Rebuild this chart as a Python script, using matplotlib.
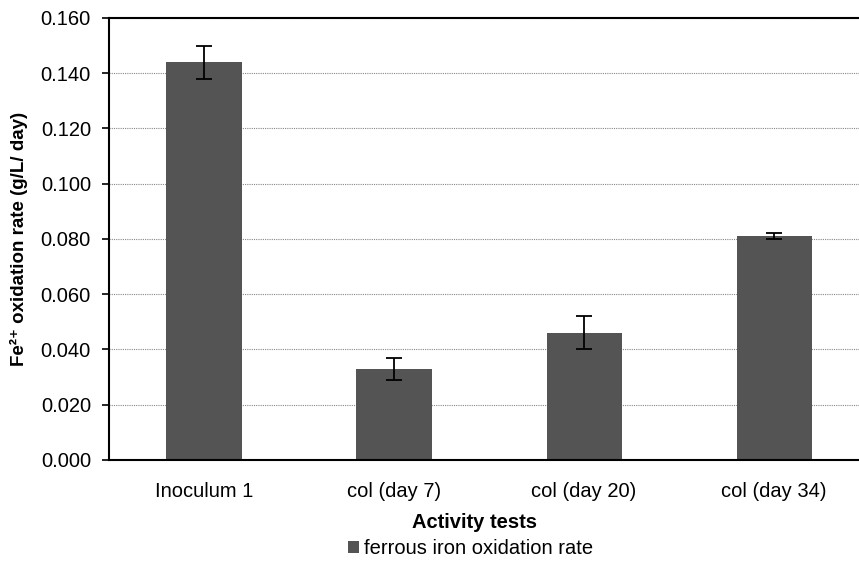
import numpy as np
import matplotlib.pyplot as plt

# скорость окисления Fe2+ по тестам активности
categories = ["Inoculum 1", "col (day 7)", "col (day 20)", "col (day 34)"]
rates = [0.144, 0.033, 0.046, 0.081]
errors = [0.006, 0.004, 0.006, 0.001]
y_ticks = [0.000, 0.020, 0.040, 0.060, 0.080, 0.100, 0.120, 0.140, 0.160]

plt.rcParams['font.family'] = ['Liberation Sans', 'DejaVu Sans']

W, H = 859, 564
fig = plt.figure(figsize=(W / 100, H / 100), dpi=100)
# правый край оси уходит за пределы рисунка
ax = fig.add_axes([0.1269, 0.1844, 0.8848, 0.7837])

x = np.arange(len(categories))
ax.bar(x, rates, width=0.395, color='#545454', zorder=2,
       label='ferrous iron oxidation rate')
ax.errorbar(x, rates, yerr=errors, fmt='none', ecolor='black',
            elinewidth=1.3, capsize=6, capthick=1.3, zorder=3)

ax.set_xlim(-0.5, len(categories) - 0.5)
ax.set_ylim(0, 0.16)
ax.set_yticks(y_ticks)
ax.set_yticklabels([f"{v:.3f}" for v in y_ticks], fontsize=14.5)
ax.set_xticks(x)
ax.set_xticklabels(categories, fontsize=14.5)
ax.tick_params(axis='x', length=0, pad=16)
ax.tick_params(axis='y', direction='out', length=5, width=1.2, pad=8)

# пунктирная сетка
ax.yaxis.grid(True, linestyle=(0, (1, 1)), color='#888888', linewidth=0.8, zorder=0)

for s in ['left', 'top', 'bottom']:
    ax.spines[s].set_linewidth(1.5)
ax.spines['right'].set_visible(False)

ax.set_ylabel("Fe²⁺ oxidation rate (g/L/ day)", fontsize=13.5, fontweight='bold')
ax.yaxis.set_label_coords(-0.107, 0.5)

# подпись оси X и легенда по центру видимой части
fig.text(475 / W, 1 - 522 / H, "Activity tests", fontsize=14.5, fontweight='bold',
         ha='center', va='center')
fig.legend(loc='center', bbox_to_anchor=(471 / W, 1 - 549 / H), frameon=False,
           fontsize=14.5, handlelength=0.55, handleheight=0.55, handletextpad=0.25,
           borderpad=0, borderaxespad=0)

fig.savefig("out.png", dpi=100)
